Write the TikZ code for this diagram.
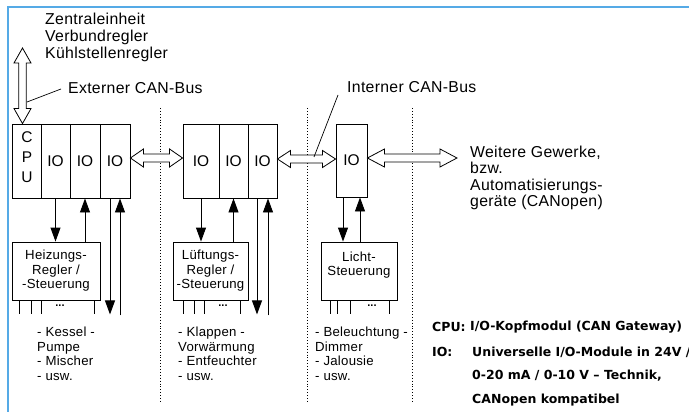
\documentclass[tikz,border=0pt]{standalone}
\usepackage{fontspec}
\setmainfont{Liberation Sans}
\newfontfamily\legfont{DejaVu Sans}
\usetikzlibrary{arrows.meta,calc}
\definecolor{frameblue}{RGB}{85,170,230}
\tikzset{
  cell/.style={draw, line width=0.9pt, minimum height=74pt, inner sep=0pt},
  ctrlbox/.style={draw, line width=0.9pt, minimum height=58pt, inner sep=0pt, align=center,
     font=\fontsize{13.2}{14.5}\selectfont\addfontfeatures{LetterSpace=2}},
  iotext/.style={font=\fontsize{15.5}{17}\selectfont},
  biglabel/.style={anchor=west, inner sep=0pt, align=left, font=\fontsize{15.8}{17}\selectfont\addfontfeatures{LetterSpace=2}},
  listlabel/.style={anchor=north west, inner sep=0pt, align=left, font=\fontsize{13.2}{14.5}\selectfont\addfontfeatures{LetterSpace=2}},
  leglabel/.style={anchor=west, inner sep=0pt, font=\legfont\bfseries\fontsize{12.5}{14}\selectfont},
  sig/.style={line width=0.9pt, -{Triangle[width=10pt,length=14pt]}},
  wire/.style={line width=0.9pt},
  sep/.style={dotted, line width=0.9pt},
  leader/.style={line width=0.7pt},
  dotsym/.style={font=\bfseries\fontsize{11}{11}\selectfont, inner sep=0pt},
}
\newcommand\hdarrow[5]{%
  \draw[fill=white, line width=0.8pt] let \p1=#1, \p2=#2 in
   (\x1,\y1) -- (\x1+#5,\y1+#3) -- (\x1+#5,\y1+#4) -- (\x2-#5,\y1+#4) -- (\x2-#5,\y1+#3)
   -- (\x2,\y1) -- (\x2-#5,\y1-#3) -- (\x2-#5,\y1-#4) -- (\x1+#5,\y1-#4) -- (\x1+#5,\y1-#3) -- cycle;}
\newcommand\vdarrow[5]{%
  \draw[fill=white, line width=0.8pt] let \p1=#1, \p2=#2 in
   (\x1,\y1) -- (\x1+#3,\y1-#5) -- (\x1+#4,\y1-#5) -- (\x1+#4,\y2+#5) -- (\x1+#3,\y2+#5)
   -- (\x1,\y2) -- (\x1-#3,\y2+#5) -- (\x1-#4,\y2+#5) -- (\x1-#4,\y1-#5) -- (\x1-#3,\y1-#5) -- cycle;}
\begin{document}
\begin{tikzpicture}[x=1pt,y=-1pt]
\useasboundingbox (0,0) rectangle (689,412);
\clip (0,0) rectangle (689,412);
\fill[white] (0,0) rectangle (689,412);
% frame
\draw[frameblue, line width=2pt] (8,412) -- (8,7.5) -- (689,7.5);

% separators
\draw[sep] (160,108) -- (160,402);
\draw[sep] (307,108) -- (307,402);
\draw[sep] (412,108) -- (412,402);

% block 1
\node[cell, minimum width=29pt] (cpu) at (26.5,161) {};
\node[iotext, align=center, inner sep=0pt] at (27,157) {C\\[3pt]P\\[3pt]U};
\node[cell, minimum width=29pt, iotext] (a1) at (55.5,161) {IO};
\node[cell, minimum width=30pt, iotext] (a2) at (85,161) {IO};
\node[cell, minimum width=30pt, iotext] (a3) at (115,161) {IO};
% block 2
\node[cell, minimum width=36pt, iotext] (b1) at (201,161) {IO};
\node[cell, minimum width=29pt, iotext] (b2) at (233.5,161) {IO};
\node[cell, minimum width=29pt, iotext] (b3) at (262.5,161) {IO};
% block 3
\node[cell, minimum width=31pt, minimum height=73pt, iotext] (c1) at (351.5,160.5) {IO};

% controller boxes
\node[ctrlbox, minimum width=88pt] (heiz) at (56,271) {Heizungs-\\Regler /\\-Steuerung};
\node[ctrlbox, minimum width=75pt] (luft) at (210.5,271) {Lüftungs-\\Regler /\\-Steuerung};
\node[ctrlbox, minimum width=76pt] (licht) at (359,271) {};
\node[ctrlbox, draw=none, minimum height=0pt] at (359,265) {Licht-\\Steuerung};

% signals block 1
\draw[sig] (a1.south) -- (a1.south |- heiz.north);
\draw[sig] (a2.south |- heiz.north) -- (a2.south);
\draw[sig] ($(a3.south)+(-5,0)$) -- ++(0,116);
\draw[sig] ($(a3.south)+(5,117)$) -- ($(a3.south)+(5,0)$);
% signals block 2
\draw[sig] (b1.south) -- (b1.south |- luft.north);
\draw[sig] (b2.south |- luft.north) -- (b2.south);
\draw[sig] ($(b3.south)+(-5.5,0)$) -- ++(0,116);
\draw[sig] ($(b3.south)+(5.5,117)$) -- ($(b3.south)+(5.5,0)$);
% signals block 3
\coordinate (c1l) at ($(c1.south)+(-8.5,0)$);
\coordinate (c1r) at ($(c1.south)+(8.5,0)$);
\draw[sig] (c1l) -- (c1l |- licht.north);
\draw[sig] (c1r |- licht.north) -- (c1r);

% legs
\foreach \dx in {8,20,30} \draw[wire] ($(heiz.south west)+(\dx,0)$) -- ++(0,14);
\draw[wire] ($(heiz.south east)+(-6,0)$) -- ++(0,14);
\node[dotsym] at (60,306) {...};
\foreach \dx in {11,22,32} \draw[wire] ($(luft.south west)+(\dx,0)$) -- ++(0,14);
\draw[wire] ($(luft.south east)+(-8,0)$) -- ++(0,14);
\node[dotsym] at (223,306) {...};
\foreach \dx in {10,17} \draw[wire] ($(licht.south west)+(\dx,0)$) -- ++(0,14);
\draw[line width=1.8pt] ($(licht.south west)+(30,0)$) -- ++(0,14);
\draw[wire] ($(licht.south east)+(-8,0)$) -- ++(0,14);
\node[dotsym] at (372,306) {...};

% lists
\node[listlabel] (lh) at (37,327) {- Kessel -\\Pumpe\\- Mischer\\- usw.};
\node[listlabel] (ll) at (178,327) {- Klappen -\\Vorwärmung\\- Entfeuchter\\- usw.};
\node[listlabel] (lc) at (315,327) {- Beleuchtung -\\Dimmer\\- Jalousie\\- usw.};

% double arrows
\coordinate (exttop) at (22.5,48);
\vdarrow{(exttop)}{($(cpu.north)+(-4,0)$)}{8.5pt}{3.7pt}{15pt}
\hdarrow{($(a3.east)+(0,-3)$)}{($(b1.west)+(0,-3)$)}{9pt}{4pt}{13pt}
\hdarrow{($(b3.east)+(0,-2)$)}{($(c1.west)+(0,-2)$)}{8.5pt}{4pt}{13pt}
\coordinate (farend) at (457,158);
\hdarrow{($(c1.east)+(0,-2.5)$)}{(farend)}{9pt}{4pt}{17pt}

% labels
\node[biglabel] (zen) at (45,37) {Zentraleinheit\\Verbundregler\\Kühlstellenregler};
\node[biglabel] (ext) at (68,88) {Externer CAN-Bus};
\coordinate (extpt) at (27,102);
\draw[leader] ($(ext.west)+(-7,1)$) -- (extpt);
\node[biglabel] (int) at (347,87) {Interner CAN-Bus};
\coordinate (intpt) at (314,157);
\draw[leader] ($(int.west)+(-9,8)$) -- (intpt);
\node[biglabel, font=\fontsize{15.8}{16.5}\selectfont\addfontfeatures{LetterSpace=2}] (weit) at (470,178) {Weitere Gewerke,\\bzw.\\Automatisierungs-\\geräte (CANopen)};

% legend
\node[leglabel] (lcpu) at (432,327) {CPU:};
\node[leglabel] (dcpu) at (470,327) {I/O-Kopfmodul (CAN Gateway)};
\node[leglabel] (lio) at (432,352) {IO:};
\node[leglabel] (dio1) at (472,352) {Universelle I/O-Module in 24V /};
\node[leglabel] (dio2) at (472,376) {0-20 mA / 0-10 V – Technik,};
\node[leglabel] (dio3) at (472,400) {CANopen kompatibel};
\end{tikzpicture}
\end{document}
